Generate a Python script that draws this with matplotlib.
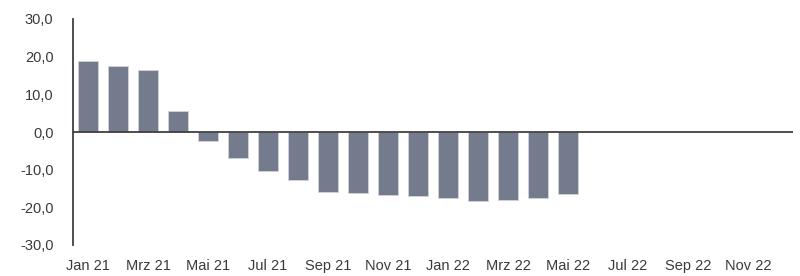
import matplotlib.pyplot as plt
import numpy as np

plt.rcParams["font.family"] = ["Liberation Sans", "DejaVu Sans"]

MONTHS = [
    "Jan 21", "Feb 21", "Mrz 21", "Apr 21", "Mai 21", "Jun 21",
    "Jul 21", "Aug 21", "Sep 21", "Okt 21", "Nov 21", "Dez 21",
    "Jan 22", "Feb 22", "Mrz 22", "Apr 22", "Mai 22", "Jun 22",
    "Jul 22", "Aug 22", "Sep 22", "Okt 22", "Nov 22", "Dez 22",
]
VALUES = [18.8, 17.6, 16.4, 5.6, -2.4, -7.0, -10.3, -12.8, -16.0, -16.2,
          -16.6, -17.1, -17.6, -18.2, -18.0, -17.6, -16.4]
Y_TICKS = [-30, -20, -10, 0, 10, 20, 30]

TEXT = "#3a3a3a"
BAR = "#737b8c"

fig = plt.figure(figsize=(8.0, 2.76), dpi=100)
ax = fig.add_axes([73 / 800, 1 - 245 / 276, 720 / 800, 226 / 276])

x = np.arange(len(MONTHS))
ax.bar(x[:len(VALUES)], VALUES, width=0.667, color=BAR,
       edgecolor="#d0d3dc", linewidth=0.6, zorder=2)

ax.set_xlim(-0.5, len(MONTHS) - 0.5)
ax.set_ylim(-30, 30)
ax.set_yticks(Y_TICKS)
ax.set_yticklabels([f"{v:.1f}".replace(".", ",") for v in Y_TICKS])
ax.set_xticks(x[::2])
ax.set_xticklabels(MONTHS[::2])

for s in ["top", "right", "bottom"]:
    ax.spines[s].set_visible(False)
ax.spines["left"].set_color("#404040")
ax.spines["left"].set_linewidth(1.3)
ax.axhline(0, color="#404040", linewidth=1.3, zorder=3)

ax.tick_params(axis="both", length=0, labelsize=10.5, colors=TEXT)
ax.tick_params(axis="y", pad=14)
ax.tick_params(axis="x", pad=10)

fig.savefig("out.png", dpi=100)
